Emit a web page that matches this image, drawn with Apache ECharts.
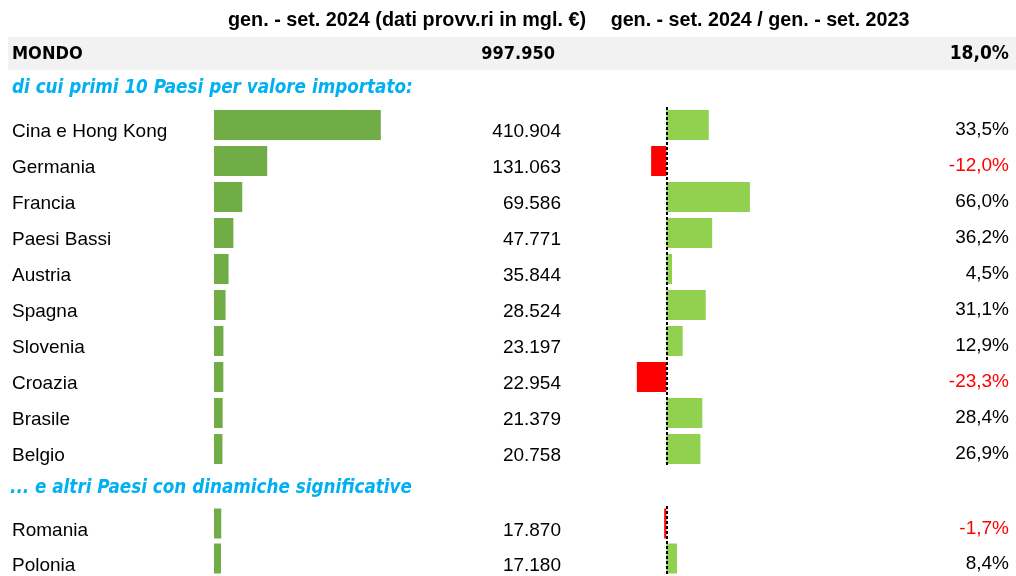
<!DOCTYPE html>
<html>
<head>
<meta charset="utf-8">
<title>Import per paese</title>
<script src="https://cdn.jsdelivr.net/npm/echarts@6/dist/echarts.min.js"></script>
<style>
  *{margin:0;padding:0;}
  #main{width:1016px;height:576px;}
</style>
</head>
<body>
<div id="main"></div>
<script>
// dati
const topCountries = ['Cina e Hong Kong','Germania','Francia','Paesi Bassi','Austria','Spagna','Slovenia','Croazia','Brasile','Belgio'];
const topValues = [410904,131063,69586,47771,35844,28524,23197,22954,21379,20758];
const topChange = [33.5,-12.0,66.0,36.2,4.5,31.1,12.9,-23.3,28.4,26.9];
const otherCountries = ['Romania','Polonia'];
const otherValues = [17870,17180];
const otherChange = [-1.7,8.4];
const worldLabel = 'MONDO';
const worldValue = 997950;
const worldChange = 18.0;
const headers = ['gen. - set. 2024 (dati provv.ri in mgl. €)','gen. - set. 2024 / gen. - set. 2023'];
const sections = ['di cui primi 10 Paesi per valore importato:','... e altri Paesi con dinamiche significative'];

const fmtK = v => String(v).replace(/\B(?=(\d{3})+(?!\d))/g, '.');
const fmtPct = v => v.toFixed(1).replace('.', ',') + '%';

const ARIAL = "'Liberation Sans', Arial, sans-serif";
const TAHOMA = "'DejaVu Sans Condensed', 'DejaVu Sans', sans-serif";
const GREEN = '#70AD47', LGREEN = '#92D050', RED = '#FF0000';

let chart = echarts.init(document.getElementById('main'));

const richTxt = {
    p: {color: '#000', fontSize: 19, fontFamily: ARIAL},
    n: {color: RED, fontSize: 19, fontFamily: ARIAL}
};
function baseAxis(grid, names, pos) {
    return {
        gridIndex: grid, type: 'category', data: names, inverse: true, position: pos,
        axisLine: {show: false}, axisTick: {show: false}
    };
}
function nameAxis(grid, names) {
    let ax = baseAxis(grid, names, 'left');
    ax.axisLabel = {align: 'left', margin: 202, padding: [14, 0, 0, 0], rich: richTxt,
        formatter: v => '{p|' + v + '}'};
    return ax;
}
function valueAxis(grid, names, values) {
    let ax = baseAxis(grid, names, 'right');
    ax.axisLabel = {align: 'right', margin: -59, padding: [14, 0, 0, 0], rich: richTxt,
        formatter: (v, i) => '{p|' + fmtK(values[i]) + '}'};
    return ax;
}
function pctAxis(grid, names, changes) {
    let ax = baseAxis(grid, names, 'right');
    ax.axisLabel = {align: 'right', margin: 216, padding: [10, 0, 0, 0], rich: richTxt,
        formatter: (v, i) => (changes[i] < 0 ? '{n|' : '{p|') + fmtPct(changes[i]) + '}'};
    return ax;
}
function changeSeries(xi, yi, changes) {
    return {
        type: 'bar', xAxisIndex: xi, yAxisIndex: yi, barWidth: 30,
        data: changes.map(c => ({value: c, itemStyle: {color: c < 0 ? RED : LGREEN}})),
        markLine: {
            silent: true, symbol: ['none', 'none'], label: {show: false},
            lineStyle: {color: '#000', type: [3, 2], width: 2},
            data: [{xAxis: 0}]
        }
    };
}
function txt(text, x, y, font, fill, align) {
    return {type: 'text', style: {text: text, x: x, y: y, font: font, fill: fill,
        textAlign: align, textVerticalAlign: 'middle', align: align, verticalAlign: 'middle'}};
}

let option = {
    backgroundColor: '#fff',
    animation: false,
    grid: [
        {left: 214, top: 107, width: 406, height: 360},
        {left: 214, top: 506, width: 406, height: 72},
        {left: 603, top: 107, width: 190, height: 360},
        {left: 603, top: 506, width: 190, height: 72}
    ],
    xAxis: [
        {gridIndex: 0, type: 'value', min: 0, max: 1000000, show: false},
        {gridIndex: 1, type: 'value', min: 0, max: 1000000, show: false},
        {gridIndex: 2, type: 'value', min: -50, max: 100, show: false},
        {gridIndex: 3, type: 'value', min: -50, max: 100, show: false}
    ],
    yAxis: [
        nameAxis(0, topCountries),
        valueAxis(0, topCountries, topValues),
        nameAxis(1, otherCountries),
        valueAxis(1, otherCountries, otherValues),
        pctAxis(2, topCountries, topChange),
        pctAxis(3, otherCountries, otherChange)
    ],
    series: [
        {type: 'bar', xAxisIndex: 0, yAxisIndex: 0, barWidth: 30, data: topValues, itemStyle: {color: GREEN}},
        {type: 'bar', xAxisIndex: 1, yAxisIndex: 2, barWidth: 30, data: otherValues, itemStyle: {color: GREEN}},
        changeSeries(2, 4, topChange),
        changeSeries(3, 5, otherChange)
    ],
    graphic: [
        {type: 'rect', z: -10, shape: {x: 8, y: 37, width: 1008, height: 33}, style: {fill: '#f2f2f2'}},
        txt(headers[0], 407, 21, 'bold 19.8px ' + ARIAL, '#000', 'center'),
        txt(headers[1], 760, 21, 'bold 19.7px ' + ARIAL, '#000', 'center'),
        txt(worldLabel, 12, 54, 'bold 18px ' + TAHOMA, '#000', 'left'),
        txt(fmtK(worldValue), 555, 54, 'bold 18px ' + TAHOMA, '#000', 'right'),
        txt(fmtPct(worldChange), 1009, 54, 'bold 19px ' + TAHOMA, '#000', 'right'),
        txt(sections[0], 12, 88, 'italic bold 18.7px ' + TAHOMA, '#00B0F0', 'left'),
        txt(sections[1], 10, 488, 'italic bold 18.7px ' + TAHOMA, '#00B0F0', 'left')
    ]
};
chart.setOption(option);
</script>
</body>
</html>
